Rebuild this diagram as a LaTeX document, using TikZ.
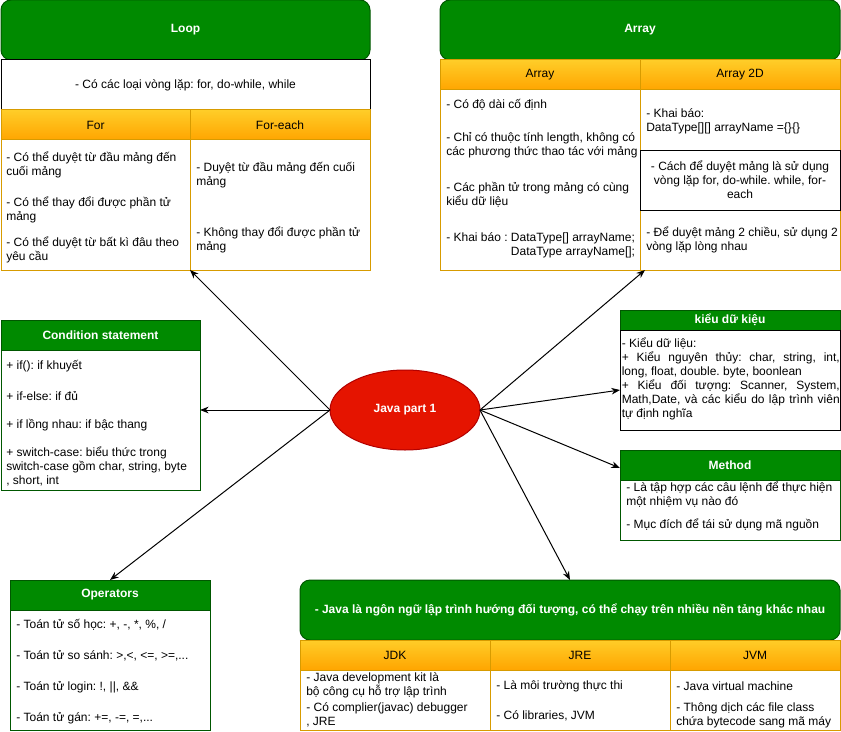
\documentclass[tikz,border=0pt]{standalone}
\usepackage{fontspec}
\setmainfont{Liberation Sans}
\usetikzlibrary{arrows.meta,shapes.geometric}
\frenchspacing

\definecolor{hdgreen}{HTML}{008A00}
\definecolor{hdgreendark}{HTML}{005700}
\definecolor{orangetop}{HTML}{FFCD28}
\definecolor{orangebot}{HTML}{FFA500}
\definecolor{orangeline}{HTML}{D79B00}
\definecolor{javared}{HTML}{E51400}
\definecolor{javaredline}{HTML}{B20000}

\tikzset{
  every node/.style={font=\fontsize{9}{10.5}\selectfont},
  sz/.style 2 args={minimum width=#1*0.75pt, minimum height=#2*0.75pt, inner sep=0pt, outer sep=0pt},
  greenhead/.style={fill=hdgreen, draw=hdgreendark, line width=0.75pt, text=white, font=\fontsize{9}{10.5}\selectfont\bfseries},
  greenround/.style={greenhead, rounded corners=7.5pt},
  orangehead/.style={top color=orangetop, bottom color=orangebot, draw=orangeline, line width=0.75pt},
  orangebody/.style={fill=white, draw=orangeline, line width=0.75pt},
  greenbody/.style={fill=white, draw=hdgreendark, line width=0.75pt},
  blackbody/.style={fill=white, draw=black, line width=0.75pt},
  txt/.style={align=left, anchor=west, inner sep=0pt},
  link/.style={-{Stealth[length=6.5pt,width=5pt]}, line width=0.75pt},
}

\begin{document}
\begin{tikzpicture}[x=0.75pt,y=0.75pt,yscale=-1,xscale=1]
\useasboundingbox (0,0) rectangle (841,731);

% Loop
\node (loophead) at (185.5,30) [greenround, sz={369}{60}] {Loop};
\node (loopnote) at (185.5,85) [blackbody, sz={369}{50}] {- Có các loại vòng lặp: for, do-while, while};
\node (forhead) at (95.5,125) [orangehead, sz={189}{30}] {For};
\node (foreachhead) at (280,125) [orangehead, sz={180}{30}] {For-each};
\node (forbody) at (95.5,205) [orangebody, sz={189}{130}] {};
\node (foreachbody) at (280,205) [orangebody, sz={180}{130}] {};
% Text Node
\node (for1) at (6,165) [txt] {- Có thể duyệt từ đầu mảng đến\\cuối mảng};
\node (for2) at (6,210) [txt] {- Có thể thay đổi được phần tử\\mảng};
\node (for3) at (6,250) [txt] {- Có thể duyệt từ bất kì đâu theo\\yêu cầu};
\node (foreach1) at (196,175) [txt] {- Duyệt từ đầu mảng đến cuối\\mảng};
\node (foreach2) at (196,240) [txt] {- Không thay đổi được phần tử\\mảng};

% Array
\node (arrhead) at (640,30) [greenround, sz={400}{60}] {Array};
\node (arr1head) at (540,75) [orangehead, sz={200}{30}] {Array};
\node (arr2head) at (740,75) [orangehead, sz={200}{30}] {Array 2D};
\node (arr1body) at (540,180) [orangebody, sz={200}{180}] {};
\node (arr2body) at (740,180) [orangebody, sz={200}{180}] {};
\node (arr2loop) at (740,180) [blackbody, sz={200}{60}, align=center]
  {- Cách để duyệt mảng là sử dụng\\vòng lặp for, do-while. while, for-\\each};
% Text Node
\node (arr1a) at (446,105) [txt] {- Có độ dài cố định};
\node (arr1b) at (446,145.5) [txt] {- Chỉ có thuộc tính length, không có\\các phương thức thao tác với mảng};
\node (arr1c) at (446,195) [txt] {- Các phần tử trong mảng có cùng\\kiểu dữ liệu};
\node (arr1d) at (446,245.5) [txt, align=right] {- Khai báo : DataType[] arrayName;\\DataType arrayName[];};
\node (arr2a) at (646,121) [txt] {- Khai báo:\\DataType[][] arrayName =\{\}\{\}};
\node (arr2b) at (646,240) [txt] {- Để duyệt mảng 2 chiều, sử dụng 2\\vòng lặp lòng nhau};

% Condition statement
\node (condhead) at (100.5,335) [greenhead, sz={199}{30}] {Condition statement};
\node (condbody) at (100.5,420) [greenbody, sz={199}{140}] {};
% Text Node
\node (cond1) at (6,366) [txt] {+ if(): if khuyết};
\node (cond2) at (6,396) [txt] {+ if-else: if đủ};
\node (cond3) at (6,425) [txt] {+ if lồng nhau: if bậc thang};
\node (cond4) at (6,466) [txt] {+ switch-case: biểu thức trong\\switch-case gồm char, string, byte\\, short, int};

% kieu du lieu
\node (typehead) at (730,320) [greenhead, sz={220}{20}] {kiểu dữ kiệu};
\node (typebody) at (730,380) [blackbody, sz={220}{100}] {};
% Text Node
\node (typetext) at (621.5,379) [txt, align=justify, text width=163.5pt]
  {- Kiểu dữ liệu:\\+ Kiểu nguyên thủy: char, string, int,\linebreak long, float, double. byte, boonlean\\+ Kiểu đối tượng: Scanner, System,\linebreak Math,Date, và các kiểu do lập trình viên\linebreak tự định nghĩa};

% Method
\node (methhead) at (730,465) [greenhead, sz={220}{30}] {Method};
\node (methbody) at (730,510) [greenbody, sz={220}{60}] {};
% Text Node
\node (meth1) at (626,495) [txt] {- Là tập hợp các câu lệnh để thực hiện\\một nhiệm vụ nào đó};
\node (meth2) at (626,525) [txt] {- Mục đích để tái sử dụng mã nguồn};

% Operators
\node (ophead) at (110,595) [greenhead, sz={200}{30}] {Operators};
\node (opbody) at (110,670) [greenbody, sz={200}{120}] {};
% Text Node
\node (op1) at (16,625) [txt] {- Toán tử số học: +, -, *, \%, /};
\node (op2) at (16,656) [txt] {- Toán tử so sánh: >,<, <=, >=,...};
\node (op3) at (16,687) [txt] {- Toán tử login: !, ||, \&\&};
\node (op4) at (16,718) [txt] {- Toán tử gán: +=, -=, =,...};

% Java
\node (javahead) at (570,610) [greenround, sz={540}{60}] {- Java là ngôn ngữ lập trình hướng đối tượng, có thể chạy trên nhiều nền tảng khác nhau};
\node (jdkhead) at (395,655) [orangehead, sz={190}{30}] {JDK};
\node (jrehead) at (580,655) [orangehead, sz={180}{30}] {JRE};
\node (jvmhead) at (755,655) [orangehead, sz={170}{30}] {JVM};
\node (jdkbody) at (395,700) [orangebody, sz={190}{60}] {};
\node (jrebody) at (580,700) [orangebody, sz={180}{60}] {};
\node (jvmbody) at (755,700) [orangebody, sz={170}{60}] {};
% Text Node
\node (jdk1) at (306,685) [txt] {- Java development kit là\\bộ công cụ hỗ trợ lập trình};
\node (jdk2) at (306,715) [txt] {- Có complier(javac) debugger\\, JRE};
\node (jre1) at (496,686) [txt] {- Là môi trường thực thi};
\node (jre2) at (496,716) [txt] {- Có libraries, JVM};
\node (jvm1) at (676,686) [txt] {- Java virtual machine};
\node (jvm2) at (676,715) [txt] {- Thông dịch các file class\\chứa bytecode sang mã máy};

% center
\node (java) at (405,410) [ellipse, sz={150}{80}, fill=javared, draw=javaredline, line width=0.75pt, text=white, font=\fontsize{9}{10.5}\selectfont\bfseries] {Java part 1};

% Arrows
\draw[link] (java.west) -- (forbody.south east);
\draw[link] (java.east) -- ([xshift=3.75pt]arr2body.south west);
\draw[link] (java.west) -- (condbody.east |- java.west);
\draw[link] (java.east) -- ([yshift=7.5pt]typebody.west);
\draw[link] (java.east) -- ([yshift=-9pt]methbody.north west);
\draw[link] (java.west) -- (ophead.north);
\draw[link] (java.east) -- (javahead.north);

\end{tikzpicture}
\end{document}
